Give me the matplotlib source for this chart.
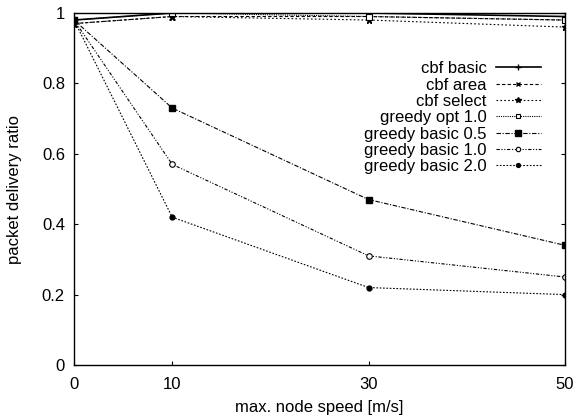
import numpy as np
import matplotlib
matplotlib.use("Agg")
import matplotlib.pyplot as plt

plt.rcParams['font.family'] = ['Liberation Sans', 'DejaVu Sans']

# max. node speed [m/s]
speed = np.array([0, 10, 30, 50])

cbf_basic = [0.98, 1.00, 1.00, 0.99]
cbf_area = [0.97, 0.99, 0.99, 0.98]
cbf_select = [0.97, 0.99, 0.98, 0.96]
greedy_opt_10 = [0.98, 1.00, 0.99, 0.98]
greedy_basic_05 = [0.98, 0.73, 0.47, 0.34]
greedy_basic_10 = [0.98, 0.57, 0.31, 0.25]
greedy_basic_20 = [0.98, 0.42, 0.22, 0.20]

fig = plt.figure(figsize=(5.85, 4.16), dpi=100)
ax = fig.add_axes([74 / 585, 1 - 365 / 416, 491 / 585, 352 / 416])

lw = 0.8
ax.plot(speed, cbf_basic, color='k', lw=1.2, ls='-', marker='+', ms=5, label='cbf basic')
ax.plot(speed, cbf_area, color='k', lw=lw, ls=(0, (3, 2)), marker='x', ms=4, label='cbf area')
ax.plot(speed, cbf_select, color='k', lw=lw, ls=(0, (1.5, 2)), marker='*', ms=5, label='cbf select')
ax.plot(speed, greedy_opt_10, color='k', lw=lw, ls=(0, (1, 1)), marker='s', ms=4,
        mfc='white', mew=0.8, label='greedy opt 1.0')
ax.plot(speed, greedy_basic_05, color='k', lw=lw, ls=(0, (4, 1.5, 1, 1.5)), marker='s', ms=5,
        label='greedy basic 0.5')
ax.plot(speed, greedy_basic_10, color='k', lw=lw, ls=(0, (3, 1.5, 1, 1.5, 1, 1.5)), marker='o', ms=4,
        mfc='white', mew=0.8, label='greedy basic 1.0')
ax.plot(speed, greedy_basic_20, color='k', lw=lw, ls=(0, (1.5, 1.5)), marker='o', ms=3.5,
        label='greedy basic 2.0')

ax.set_xlim(0, 50)
ax.set_ylim(0, 1)
ax.set_xticks(speed)
ax.set_yticks([0, 0.2, 0.4, 0.6, 0.8, 1])
ax.set_yticklabels(['0', '0.2', '0.4', '0.6', '0.8', '1'])
ax.tick_params(direction='in', length=3, width=0.8, labelsize=12, right=True)
ax.tick_params(axis='x', pad=8.5)
ax.tick_params(axis='y', pad=6.5)
for s in ax.spines.values():
    s.set_linewidth(1.0)

ax.set_xlabel('max. node speed [m/s]', fontsize=12, labelpad=6)
ax.set_ylabel('packet delivery ratio', fontsize=12, labelpad=14)

ax.legend(loc='upper right', bbox_to_anchor=(0.951, 0.863), frameon=False, markerfirst=False,
          fontsize=12, handlelength=2.7, handletextpad=0.55, labelspacing=0.08,
          borderpad=0, borderaxespad=0, markerscale=0.8)

fig.savefig('out.png', dpi=100)
